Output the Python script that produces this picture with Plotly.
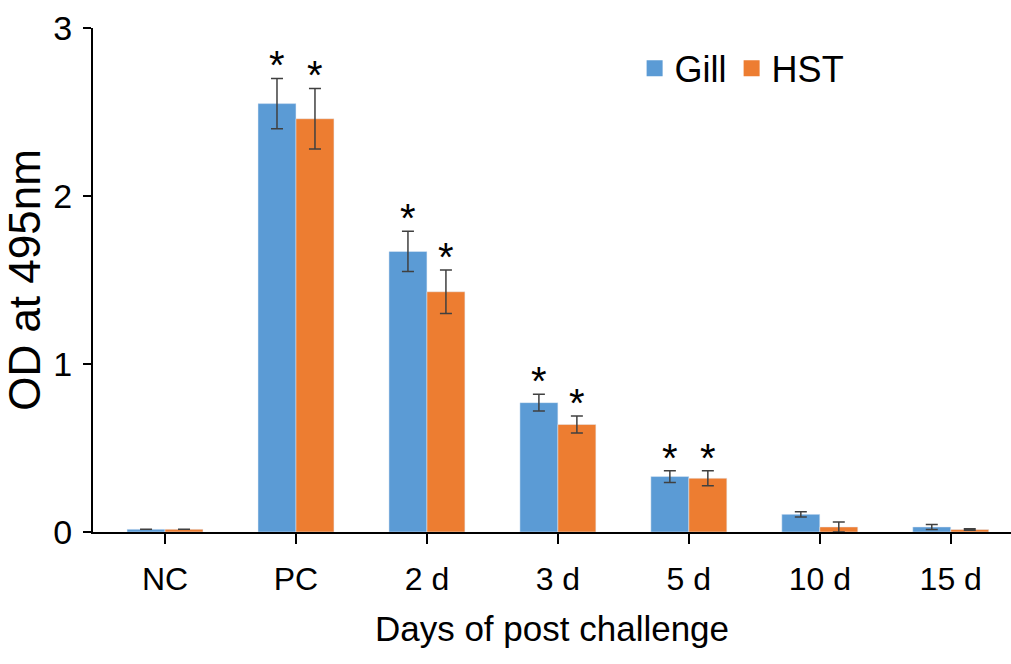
import plotly.graph_objects as go

categories = ["NC", "PC", "2 d", "3 d", "5 d", "10 d", "15 d"]
gill = [0.016, 2.55, 1.67, 0.77, 0.33, 0.105, 0.03]
gill_err = [0.0, 0.15, 0.12, 0.05, 0.035, 0.015, 0.015]
hst = [0.016, 2.46, 1.43, 0.64, 0.32, 0.03, 0.015]
hst_err = [0.0, 0.18, 0.13, 0.05, 0.045, 0.03, 0.005]
gill_sig = [False, True, True, True, True, False, False]
hst_sig = [False, True, True, True, True, False, False]
series_names = ["Gill", "HST"]
series_colors = ["#5B9BD5", "#ED7D31"]

FONT = "Liberation Sans, Arial"

fig = go.Figure()
for name, vals, errs, col in zip(series_names, [gill, hst], [gill_err, hst_err], series_colors):
    fig.add_trace(go.Bar(
        x=categories, y=vals, name=name, marker_color=col, showlegend=False,
        error_y=dict(type="data", array=errs, color="#404040", thickness=1.5, width=6),
    ))
# legend entries with larger square swatches
for name, col in zip(series_names, series_colors):
    fig.add_trace(go.Scatter(
        x=[None], y=[None], mode="markers", name=name,
        marker=dict(symbol="square", size=20, color=col),
    ))

for i, c in enumerate(categories):
    if gill_sig[i]:
        fig.add_annotation(x=c, y=gill[i] + gill_err[i], text="*", showarrow=False,
                           xshift=-19, yshift=13, yanchor="middle",
                           font=dict(size=40, color="black", family=FONT))
    if hst_sig[i]:
        fig.add_annotation(x=c, y=hst[i] + hst_err[i], text="*", showarrow=False,
                           xshift=19, yshift=13, yanchor="middle",
                           font=dict(size=40, color="black", family=FONT))

fig.update_layout(
    width=1011, height=664,
    margin=dict(l=93, r=0, t=28, b=132),
    paper_bgcolor="white", plot_bgcolor="white",
    barmode="group", bargap=0.42, bargroupgap=0,
    font=dict(family=FONT, color="black"),
    legend=dict(orientation="h", x=0.59, y=0.92, xanchor="left", yanchor="middle",
                font=dict(size=36), bgcolor="rgba(0,0,0,0)", itemwidth=30,
                traceorder="normal"),
    xaxis=dict(
        range=[-0.55, 6.46], showline=True, linecolor="black", linewidth=2,
        ticks="outside", ticklen=10, tickwidth=2, tickcolor="black",
        ticklabelstandoff=8,
        tickfont=dict(size=32), title=dict(text="Days of post challenge", font=dict(size=35), standoff=20),
    ),
    yaxis=dict(
        range=[0, 3], tickvals=[0, 1, 2, 3], showline=True, linecolor="black", linewidth=2,
        ticks="outside", ticklen=8, tickwidth=2, tickcolor="black", showgrid=False,
        ticklabelstandoff=4,
        zeroline=False, tickfont=dict(size=34),
        title=dict(text="OD at 495nm", font=dict(size=44), standoff=0),
    ),
)

fig.write_html("out.html")
